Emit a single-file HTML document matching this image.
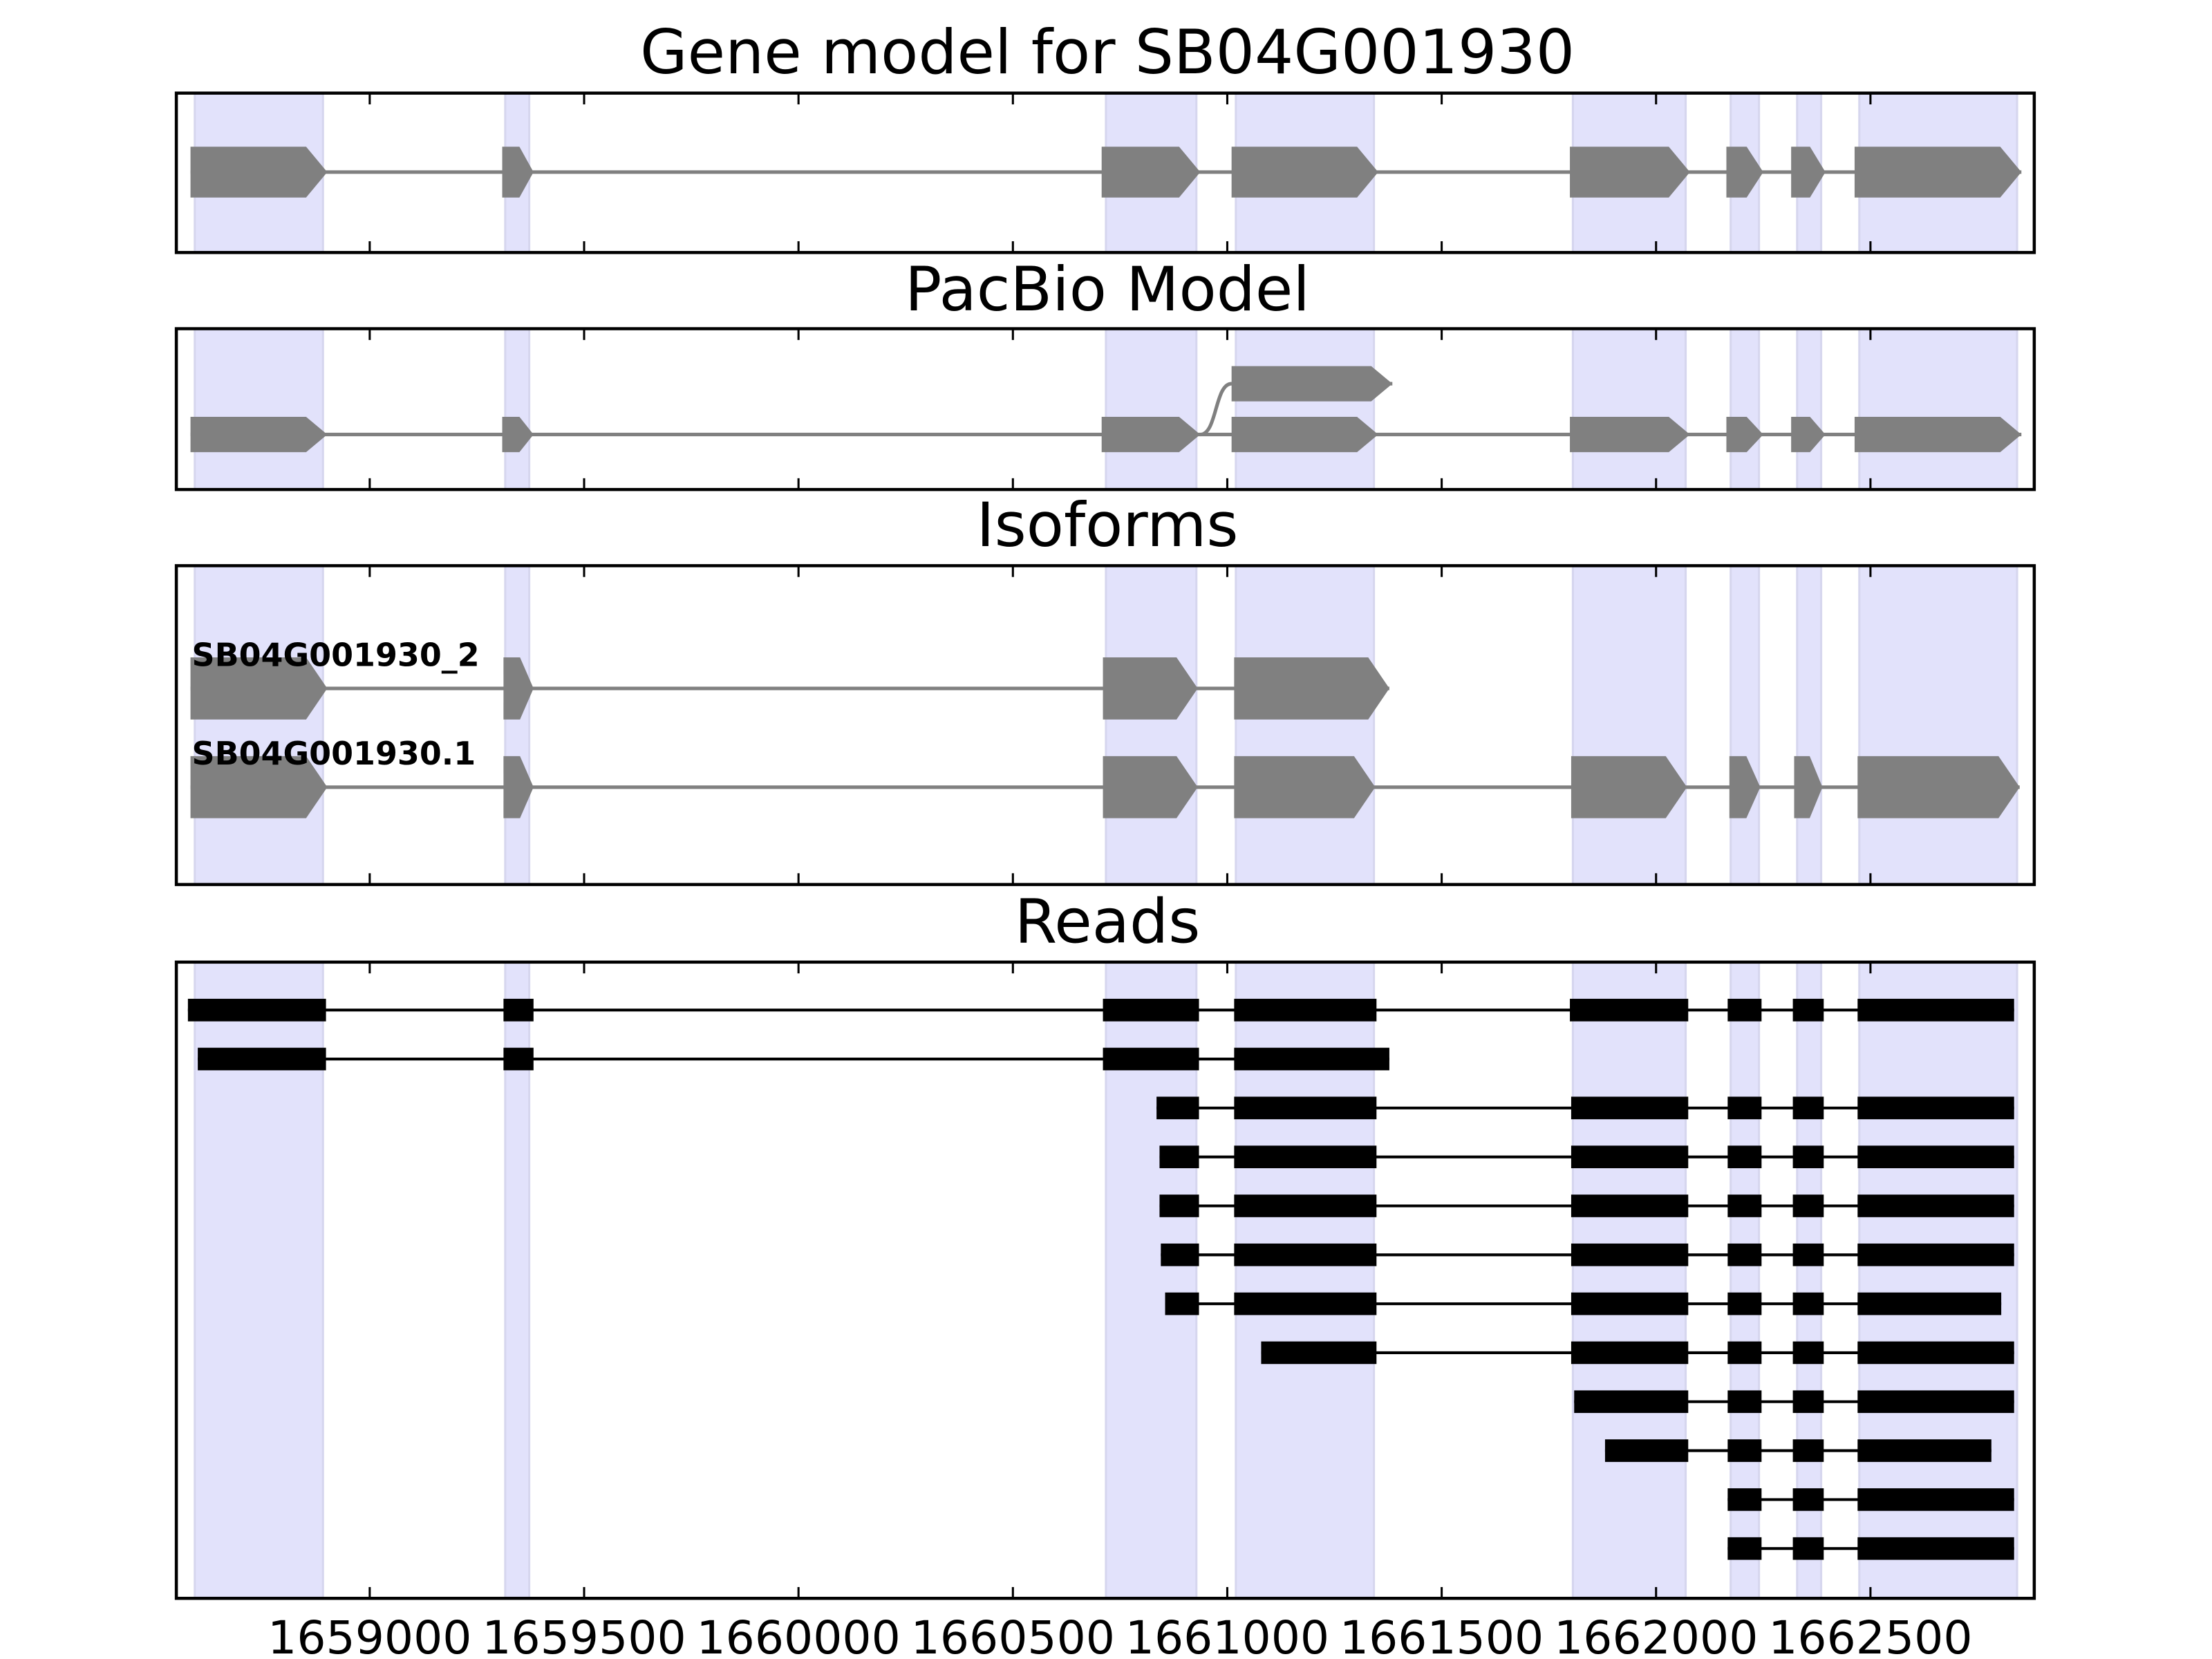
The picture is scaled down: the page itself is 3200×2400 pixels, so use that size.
<!DOCTYPE html>
<html><head><meta charset="utf-8"><style>html,body{margin:0;padding:0;background:#fff}svg{display:block}text{font-family:"DejaVu Sans","Liberation Sans",sans-serif}</style></head>
<body>
<svg id="chart" xmlns="http://www.w3.org/2000/svg" width="3200" height="2400" viewBox="0 0 1568 1176" preserveAspectRatio="none"></svg>
<script>
const tickValues=[1659000,1659500,1660000,1660500,1661000,1661500,1662000,1662500];
const tickLabels=["1659000","1659500","1660000","1660500","1661000","1661500","1662000","1662500"];
const shadedRegions=[[1658592,1658891],[1659316,1659372],[1660717,1660928],[1661020,1661342],[1661806,1662069],[1662174,1662240],[1662329,1662385],[1662474,1662842]];
const geneExons=[[1658582,1658901],[1659309,1659382],[1660707,1660937],[1661010,1661352],[1661799,1662079],[1662164,1662250],[1662315,1662395],[1662463,1662852]];
const pacbioMain=[[1658582,1658901],[1659309,1659382],[1660707,1660937],[1661010,1661352],[1661799,1662079],[1662164,1662250],[1662315,1662395],[1662463,1662852]];
const pacbioAlt=[[1661010,1661385]];
const iso2Exons=[[1658582,1658901],[1659312,1659382],[1660710,1660931],[1661016,1661378]];
const iso1Exons=[[1658582,1658901],[1659312,1659382],[1660710,1660931],[1661016,1661345],[1661802,1662072],[1662171,1662243],[1662322,1662388],[1662470,1662848]];
const isoNames=["SB04G001930_2","SB04G001930.1"];
const tailR=[[1661802,1662075],[1662167,1662246],[1662319,1662391],[1662470,1662835]];
const reads=[
 [[1658576,1658898],[1659312,1659382],[1660710,1660934],[1661016,1661348],[1661799,1662075],[1662167,1662246],[1662319,1662391],[1662470,1662835]],
 [[1658599,1658898],[1659312,1659382],[1660710,1660934],[1661016,1661378]],
 [[1660835,1660934],[1661016,1661348]].concat(tailR),
 [[1660842,1660934],[1661016,1661348]].concat(tailR),
 [[1660842,1660934],[1661016,1661348]].concat(tailR),
 [[1660845,1660934],[1661016,1661348]].concat(tailR),
 [[1660855,1660934],[1661016,1661348],[1661802,1662075],[1662167,1662246],[1662319,1662391],[1662470,1662805]],
 [[1661079,1661348]].concat(tailR),
 [[1661809,1662075],[1662167,1662246],[1662319,1662391],[1662470,1662835]],
 [[1661881,1662075],[1662167,1662246],[1662319,1662391],[1662470,1662782]],
 [[1662167,1662246],[1662319,1662391],[1662470,1662835]],
 [[1662167,1662246],[1662319,1662391],[1662470,1662835]]
];
const NS="http://www.w3.org/2000/svg";
const svg=document.getElementById('chart');
const L=125,R=1442,V0=1658549,V1=1662882;
const X=v=>L+(v-V0)/(V1-V0)*(R-L);
function mk(t,a,p){const e=document.createElementNS(NS,t);for(const k in a)e.setAttribute(k,a[k]);(p||svg).appendChild(e);return e;}
const panels=[
 {name:'gene-model-panel',title:'Gene model for SB04G001930',top:66,bot:179,ty:52},
 {name:'pacbio-model-panel',title:'PacBio Model',top:233,bot:347,ty:220},
 {name:'isoforms-panel',title:'Isoforms',top:401,bot:627,ty:387},
 {name:'reads-panel',title:'Reads',top:682,bot:1133,ty:668}];
const groups=[];
panels.forEach(p=>{
 const g=mk('g',{});
 
 
 groups.push(g);
 shadedRegions.forEach(r=>{
  const s=mk('rect',{x:X(r[0]),y:p.top,width:X(r[1])-X(r[0]),height:p.bot-p.top,fill:'#e2e2fb',stroke:'#d6d6ee','stroke-width':1.5},g);
  
  
 });
 const t=mk('text',{x:785,y:p.ty,'text-anchor':'middle','font-size':43.4},g);
 t.textContent=p.title;
 
 
});
function arrowTrack(g,exons,y,h,name){
 const a=X(exons[0][0]),b=X(exons[exons.length-1][1]);
 const ln=mk('line',{x1:a,x2:b,y1:y,y2:y,stroke:'#808080','stroke-width':2.5},g);
 
 
 exons.forEach(e=>{
  const x0=X(e[0]),x1=X(e[1]);const hl=Math.min(15,(x1-x0)*0.45);
  const pg=mk('polygon',{points:`${x0},${y-h/2} ${x1-hl},${y-h/2} ${x1},${y} ${x1-hl},${y+h/2} ${x0},${y+h/2}`,fill:'#808080'},g);
  
  
 });
}
arrowTrack(groups[0],geneExons,122,36,'gene');
arrowTrack(groups[1],pacbioMain,308,25,'pacbio-main');
arrowTrack(groups[1],pacbioAlt,272,25,'pacbio-alt');
const cv=mk('path',{d:`M${X(pacbioMain[2][1])},308 C${X(pacbioMain[2][1])+12},308 ${X(pacbioAlt[0][0])-12},272 ${X(pacbioAlt[0][0])},272`,fill:'none',stroke:'#808080','stroke-width':2.5},groups[1]);


arrowTrack(groups[2],iso2Exons,488,44,'isoform-2');
arrowTrack(groups[2],iso1Exons,558,44,'isoform-1');
[[isoNames[0],472],[isoNames[1],542]].forEach(n=>{
 const t=mk('text',{x:136,y:n[1],'font-size':22.5,'font-weight':'bold'},groups[2]);
 t.textContent=n[0];
 
 
});
reads.forEach((r,i)=>{
 const y=716+i*34.7;
 const g=mk('g',{},groups[3]);
 
 
 mk('line',{x1:X(r[0][0]),x2:X(r[r.length-1][1]),y1:y,y2:y,stroke:'#000','stroke-width':2},g);
 r.forEach(e=>{
  const b=mk('rect',{x:X(e[0]),y:y-8,width:X(e[1])-X(e[0]),height:16,fill:'#000'},g);
  
  
 });
});
panels.forEach((p,i)=>{
 const g=groups[i];
 tickValues.forEach(v=>{
  mk('line',{x1:X(v),x2:X(v),y1:p.top,y2:p.top+8,stroke:'#000','stroke-width':1.5},g);
  mk('line',{x1:X(v),x2:X(v),y1:p.bot,y2:p.bot-8,stroke:'#000','stroke-width':1.5},g);
 });
 const f=mk('rect',{x:L,y:p.top,width:R-L,height:p.bot-p.top,fill:'none',stroke:'#000','stroke-width':2.2},g);
 
 
});
tickValues.forEach((v,i)=>{
 const t=mk('text',{x:X(v),y:1172,'text-anchor':'middle','font-size':32.5});
 t.textContent=tickLabels[i];
 
 
});
</script>
</body></html>
